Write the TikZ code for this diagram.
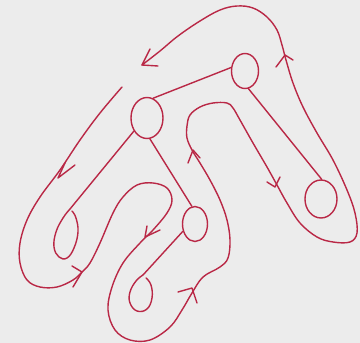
\documentclass[tikz,border=0pt]{standalone}
\usepackage{tikz}
\usetikzlibrary{shapes.geometric}
\definecolor{penred}{RGB}{185,40,70}
\definecolor{boardgray}{RGB}{236,236,236}

\begin{document}
\begin{tikzpicture}[x=1pt,y=-1pt,
  line join=round,line cap=round,
  treenode/.style={ellipse,draw=penred,line width=1.4pt,inner sep=0pt},
  branch/.style={draw=penred,line width=1.4pt},
  trail/.style={draw=penred,line width=1.4pt}]
  % --- board (fixes the size: 360 x 343) ---
  \path[use as bounding box,fill=boardgray] (0,0) rectangle (360,343);
  % --- tree nodes ---
  \node[treenode,minimum width=27pt,minimum height=35pt] (r) at (245,71) {};
  \node[treenode,minimum width=32pt,minimum height=41pt] (a) at (147,118) {};
  \node[treenode,minimum width=32pt,minimum height=38pt] (b) at (321,199) {};
  \node[treenode,minimum width=25pt,minimum height=35pt] (d) at (195,224) {};
  % leaves drawn as open loops, hung from these points
  \coordinate (c) at (70,209);
  \coordinate (e) at (143,275);
  % --- branches ---
  \draw[branch] (r.166) -- (a.73);
  \draw[branch] (r.281) -- (b.88);
  \draw[branch] (a.225) -- (c);
  \draw[branch] (a.278) -- (d.100);
  \draw[branch] (d.211) -- (e);
  % leaf loops
  \draw[branch] plot[smooth,tension=0.7] coordinates {(70,209) (63,218) (56,232)
    (54,247) (59,257) (67,258) (74,248) (78,232) (76,218) (72,211)};
  \draw[branch] plot[smooth,tension=0.7] coordinates {(143,275) (136,281) (130,292)
    (130,303) (137,311) (147,309) (152,298) (151,285) (146,278)};
  % --- walk round the tree ---
  \draw[trail] plot[smooth,tension=0.6] coordinates {(122,87) (100,113) (80,140)
    (60,170) (40,197) (27,220) (20,243) (20,263) (27,280) (40,287) (57,287)
    (73,280) (82,272) (90,263) (100,243) (113,213) (123,197) (137,185) (153,183)
    (167,188) (172,200) (167,213) (153,230) (140,243) (123,263) (112,287)
    (108,310) (115,330) (130,340) (150,340) (170,327) (182,310) (192,293)
    (203,277) (220,267) (228,258) (230,240) (227,220) (220,200) (210,180)
    (200,163) (192,150) (187,138) (187,126) (190,115) (200,107) (213,103)
    (227,103) (233,108) (240,120) (253,143) (267,167) (277,185) (287,203)
    (300,223) (317,237) (333,242) (350,242) (357,233) (355,213) (347,190)
    (333,160) (317,133) (303,107) (293,83) (286,60) (282,45) (277,30) (267,17)
    (253,8) (237,6) (220,10) (200,21) (178,36) (160,51) (142,65)};
  % arrow marks: tip / arm / arm
  \foreach \tx/\ty/\ax/\ay/\bx/\by in {58/178/65/163/75/165,
      82/272/72/266/73/287, 145/237/147/226/160/230, 192/288/178/292/197/303,
      193/150/188/163/200/158, 275/187/267/182/280/177,
      285/55/276/67/293/60, 142/65/150/49/158/66}{
    \draw[trail] (\ax,\ay) -- (\tx,\ty) -- (\bx,\by);}
\end{tikzpicture}
\end{document}
